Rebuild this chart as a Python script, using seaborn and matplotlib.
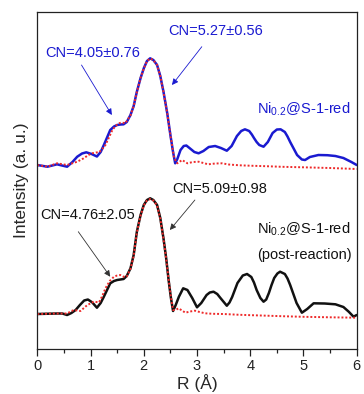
import numpy as np
import pandas as pd
import matplotlib
matplotlib.use("Agg")
import matplotlib.pyplot as plt
import seaborn as sns
from matplotlib.ticker import MultipleLocator

# ---------------- data (arbitrary intensity units) ----------------
r_top_exp = [0, 0.19, 0.37, 0.56, 0.66, 0.75, 0.84, 0.92, 1.02, 1.12, 1.19, 1.25, 1.31, 1.37, 1.44, 1.50,
             1.56, 1.62, 1.68, 1.75, 1.81, 1.87, 1.94, 2.0, 2.06, 2.12, 2.18, 2.25, 2.31,
             2.37, 2.44, 2.50, 2.55, 2.59, 2.63, 2.69, 2.75, 2.8, 2.87,
             2.95, 3.03, 3.12, 3.22, 3.34, 3.45, 3.56, 3.65, 3.70, 3.75, 3.83,
             3.9, 3.98, 4.03, 4.07, 4.12, 4.17, 4.25, 4.33, 4.38, 4.42, 4.5, 4.57, 4.65,
             4.70, 4.75, 4.82, 4.88, 4.97, 5.03, 5.12, 5.28, 5.45, 5.6, 5.75, 5.9, 6.0]
i_top_exp = [184, 182.3, 184.7, 182.3, 187, 192.3, 195.5, 196.7, 195, 192.5, 197, 204, 211.5, 219, 222.5, 224,
             224.5, 224.7, 227, 234, 243, 257.3, 271, 280.7, 288, 290.7, 289, 284, 273,
             257.3, 236, 214, 197, 185.7, 190, 199, 203, 203.5, 200.5,
             197, 195.7, 198, 202, 203, 201, 198.3, 203, 208, 213, 218,
             219.7, 218, 214.5, 211, 207, 204, 202.3, 207, 212, 216, 219.5, 219.7, 217,
             212.5, 207, 200, 194, 189.5, 189, 192, 194, 193.8, 193, 191, 187, 184]

r_top_fit = [0, 0.19, 0.37, 0.56, 0.75, 0.87, 0.96, 1.03, 1.10, 1.16,
             1.22, 1.28, 1.35, 1.41, 1.47, 1.53, 1.59, 1.65, 1.75, 1.81, 1.87,
             1.94, 2.0, 2.06, 2.12, 2.18, 2.25, 2.31, 2.37, 2.44, 2.50,
             2.57, 2.63, 2.72, 2.82, 2.92, 3.03, 3.12, 3.21, 3.34, 3.47,
             3.6, 3.8, 4.0, 4.3, 4.6, 5.0, 5.5, 6.0]
i_top_fit = [184, 182.3, 185.7, 184, 187.3, 190.7, 194, 195.7, 196.5, 196.7,
             200, 204, 212, 219, 223, 225.7, 226.5, 225.7, 233.5, 243, 257,
             271, 280.5, 288, 290.5, 289, 284, 273, 257, 236, 214,
             191, 185.7, 189, 185.7, 187, 187.3, 186, 184.7, 185.5, 185.7,
             184.5, 183.7, 183.3, 182.8, 182.2, 181.7, 181, 180]

r_bot_exp = [0, 0.37, 0.47, 0.56, 0.64, 0.72, 0.8, 0.88, 0.95, 1.03,
             1.12, 1.19, 1.25, 1.31, 1.37, 1.44, 1.5, 1.56, 1.62, 1.68,
             1.75, 1.81, 1.87, 1.94, 2.0, 2.06, 2.12, 2.18, 2.25, 2.31,
             2.37, 2.42, 2.47, 2.51, 2.55, 2.6, 2.66, 2.74, 2.82, 2.91,
             3.0, 3.08, 3.18, 3.24, 3.31, 3.38, 3.44, 3.56, 3.61, 3.66, 3.71, 3.76, 3.86, 3.94,
             4.02, 4.07, 4.12, 4.19, 4.25, 4.30, 4.35, 4.40, 4.45, 4.51, 4.56, 4.65, 4.70, 4.75,
             4.81, 4.87, 4.97,
             5.07, 5.19, 5.4, 5.6, 5.75, 5.85, 5.94, 6.0]
i_bot_exp = [35, 35.5, 35.5, 34, 36, 39, 44, 48.5, 49.5, 46.7,
             41.3, 46, 52.3, 59, 65.7, 68, 69, 69.5, 70, 73,
             80.7, 94, 117.3, 134, 144, 149, 150.7, 149, 144, 131,
             110.7, 91, 67.3, 51, 38, 44, 52.3, 60.7, 59, 51,
             41.7, 46, 54, 56.5, 57.3, 55, 51, 43.3, 46.5, 52, 59, 66, 73.5, 75,
             72, 66.5, 59, 51, 47.3, 49.5, 56, 64, 71, 75.5, 77.3, 75, 70.5, 64,
             55, 46, 36.3,
             40, 45.7, 45.5, 44.7, 42, 37.3, 32.3, 34]

r_bot_fit = [0, 0.37, 0.56, 0.64, 0.69, 0.81, 0.94, 1.06, 1.16, 1.22,
             1.28, 1.36, 1.44, 1.50, 1.56, 1.62, 1.68, 1.75, 1.81, 1.87,
             1.94, 2.0, 2.06, 2.12, 2.18, 2.25, 2.31, 2.37, 2.42, 2.47,
             2.51, 2.55, 2.6, 2.65, 2.72, 2.78, 2.87, 2.96, 3.05, 3.15,
             3.3, 3.5, 3.8, 4.2, 4.6, 5.0, 5.5, 6.0]
i_bot_fit = [35, 35.5, 35.5, 38, 39, 38, 44, 47.3, 46.7, 53,
             60.7, 68, 72.3, 73.5, 74, 72.3, 72.5, 80, 93, 116.5,
             133.5, 143.5, 148.5, 150, 148.5, 143.5, 130.5, 110, 90.5, 68,
             52, 39, 39, 40.7, 38.5, 36.3, 37.5, 38.3, 37, 35.7,
             35.2, 35, 34.2, 33.5, 32.8, 32.2, 31.7, 31.3]

x_ticks = [0, 1, 2, 3, 4, 5, 6]
x_label = "R (Å)"
y_label = "Intensity (a. u.)"
cn_top_1 = "CN=4.05±0.76"
cn_top_2 = "CN=5.27±0.56"
cn_bot_1 = "CN=4.76±2.05"
cn_bot_2 = "CN=5.09±0.98"
label_top = r"Ni$_{\mathrm{0.2}}$@S-1-red"
label_bot = r"Ni$_{\mathrm{0.2}}$@S-1-red"
label_bot2 = "(post-reaction)"

# ---------------- style ----------------
sns.set_style("ticks")
plt.rcParams["font.family"] = ["Liberation Sans", "DejaVu Sans"]
plt.rcParams["mathtext.fontset"] = "custom"
plt.rcParams["mathtext.rm"] = "Liberation Sans"
plt.rcParams["mathtext.it"] = "Liberation Sans:italic"
plt.rcParams["mathtext.bf"] = "Liberation Sans:bold"

BLUE = "#1a1ad0"
RED = "#ee2a2a"
BLACK = "#111111"

fig = plt.figure(figsize=(3.64, 3.94), dpi=100)
ax = fig.add_axes([0.1025, 0.1142, 0.8775, 0.8553])

sns.lineplot(x=r_top_exp, y=i_top_exp, ax=ax, color=BLUE, lw=1.8, sort=False)
sns.lineplot(x=r_top_fit, y=i_top_fit, ax=ax, color=RED, lw=1.4, sort=False,
             dashes=False, linestyle=(0, (1, 1)))
sns.lineplot(x=r_bot_exp, y=i_bot_exp, ax=ax, color=BLACK, lw=1.8, sort=False)
sns.lineplot(x=r_bot_fit, y=i_bot_fit, ax=ax, color=RED, lw=1.4, sort=False,
             dashes=False, linestyle=(0, (1, 1)))

ax.set_xlim(0, 6)
ax.set_ylim(0, 337)
ax.set_xticks(x_ticks)
ax.xaxis.set_minor_locator(MultipleLocator(0.5))
ax.set_yticks([])
ax.tick_params(axis="x", which="major", length=5, width=0.9, labelsize=10.5,
               pad=2, direction="out", colors="#222222")
ax.tick_params(axis="x", which="minor", length=3, width=0.9, direction="out",
               colors="#222222")
for s in ax.spines.values():
    s.set_visible(True)
    s.set_linewidth(0.9)
    s.set_color("#222222")

ax.set_xlabel(x_label, fontsize=12.5, labelpad=1)
ax.set_ylabel(y_label, fontsize=12.5, labelpad=6)

fs = 10.5
arrow_blue = dict(arrowstyle="-|>", lw=0.6, color=BLUE, mutation_scale=9,
                  shrinkA=0, shrinkB=0)
arrow_black = dict(arrowstyle="-|>", lw=0.6, color="#333333", mutation_scale=9,
                   shrinkA=0, shrinkB=0)

ax.text(0.145, 296, cn_top_1, color=BLUE, fontsize=fs, ha="left", va="center")
ax.annotate("", xy=(1.40, 234), xytext=(0.83, 284), arrowprops=arrow_blue)
ax.text(2.46, 318.3, cn_top_2, color=BLUE, fontsize=fs, ha="left", va="center")
ax.annotate("", xy=(2.53, 264), xytext=(3.09, 302.3), arrowprops=arrow_blue)
ax.text(4.13, 240, label_top, color=BLUE, fontsize=fs, ha="left", va="center")

ax.text(2.53, 160, cn_bot_2, color=BLACK, fontsize=fs, ha="left", va="center")
ax.annotate("", xy=(2.49, 119), xytext=(2.96, 149), arrowprops=arrow_black)
ax.text(0.05, 134, cn_bot_1, color=BLACK, fontsize=fs, ha="left", va="center")
ax.annotate("", xy=(1.37, 72.3), xytext=(0.77, 117.3), arrowprops=arrow_black)
ax.text(4.13, 120, label_bot, color=BLACK, fontsize=fs, ha="left", va="center")
ax.text(4.13, 94, label_bot2, color=BLACK, fontsize=fs, ha="left", va="center")

fig.savefig("out.png", dpi=100)
